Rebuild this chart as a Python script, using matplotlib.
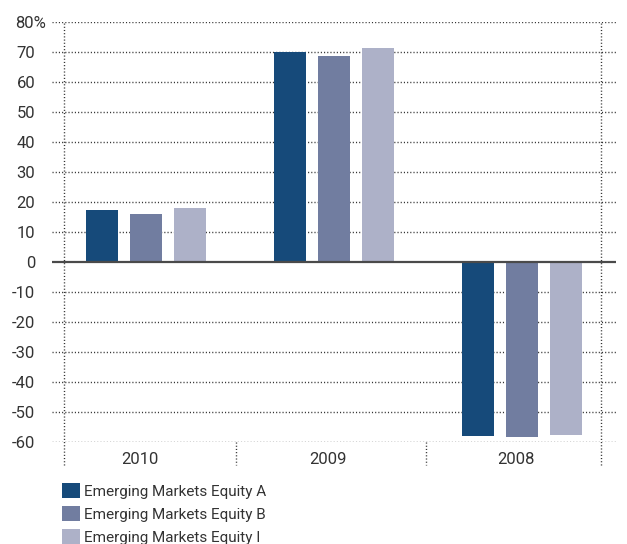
import matplotlib
matplotlib.use("Agg")
import matplotlib.pyplot as plt
import matplotlib.transforms as mtransforms
from matplotlib.patches import Patch
import numpy as np

plt.rcParams['font.family'] = ['Roboto', 'DejaVu Sans']

categories = ["2010", "2009", "2008"]
series_names = ["Emerging Markets Equity A", "Emerging Markets Equity B", "Emerging Markets Equity I"]
equity_a = [17.3, 70.0, -57.9]
equity_b = [16.0, 68.7, -58.2]
equity_i = [18.0, 71.3, -57.6]
yticks = [-60, -50, -40, -30, -20, -10, 0, 10, 20, 30, 40, 50, 60, 70, 80]
colors = ["#164a7a", "#717da0", "#adb1c8"]

W, H = 627, 544
fig = plt.figure(figsize=(W / 100, H / 100), dpi=100)
ax = fig.add_axes([52 / W, (H - 442) / H, 564 / W, 420 / H])

text_color = "#333333"
grid_color = "#333333"
dot = dict(color=grid_color, lw=1.0, linestyle=(0, (0.8, 1.5)))

x = np.arange(len(categories))
bw = 0.165
off = 0.234
for i, (vals, c) in enumerate(zip([equity_a, equity_b, equity_i], colors)):
    ax.bar(x + (i - 1) * off, vals, width=bw, color=c, zorder=3)

ax.set_xlim(-0.5, 2.5)
ax.set_ylim(-60, 80)

# horizontal dotted grid
for yv in yticks:
    if yv == 0:
        continue
    ax.axhline(yv, zorder=1, **dot)
ax.axhline(0, color="#4a4a4a", lw=1.6, zorder=4)

# vertical dotted frame lines
xl, xr = -0.436, 2.42
for xv in (xl, xr):
    ax.plot([xv, xv], [-67.7, 80], clip_on=False, zorder=2, **dot)
for xv in (0.48, 1.487):
    ax.plot([xv, xv], [-60, -67.7], clip_on=False, zorder=2, **dot)

for s in ax.spines.values():
    s.set_visible(False)

ax.set_yticks(yticks)
labels = [str(v) for v in yticks]
labels[-1] = "80%"
ax.set_yticklabels(labels, fontsize=12, color=text_color)
ax.tick_params(axis="y", length=0, pad=12)
ax.set_xticks([])
# shift the 80% label so the digits align with the others
lab = ax.get_yticklabels()[-1]
lab.set_transform(lab.get_transform() + mtransforms.ScaledTranslation(11 / 100, 0, fig.dpi_scale_trans))

for xi, c in zip(x, categories):
    ax.text(xi - 0.03, -66, c, ha="center", va="center", fontsize=12, color=text_color)

handles = [Patch(facecolor=c, edgecolor="none") for c in colors]
fig.legend(handles, series_names, loc="upper left", bbox_to_anchor=(62 / W, (H - 483) / H),
           frameon=False, fontsize=11, handlelength=1.15, handleheight=1.1,
           handletextpad=0.3, labelspacing=0.5, borderpad=0, borderaxespad=0,
           labelcolor=text_color)

fig.savefig("out.png", dpi=100)
